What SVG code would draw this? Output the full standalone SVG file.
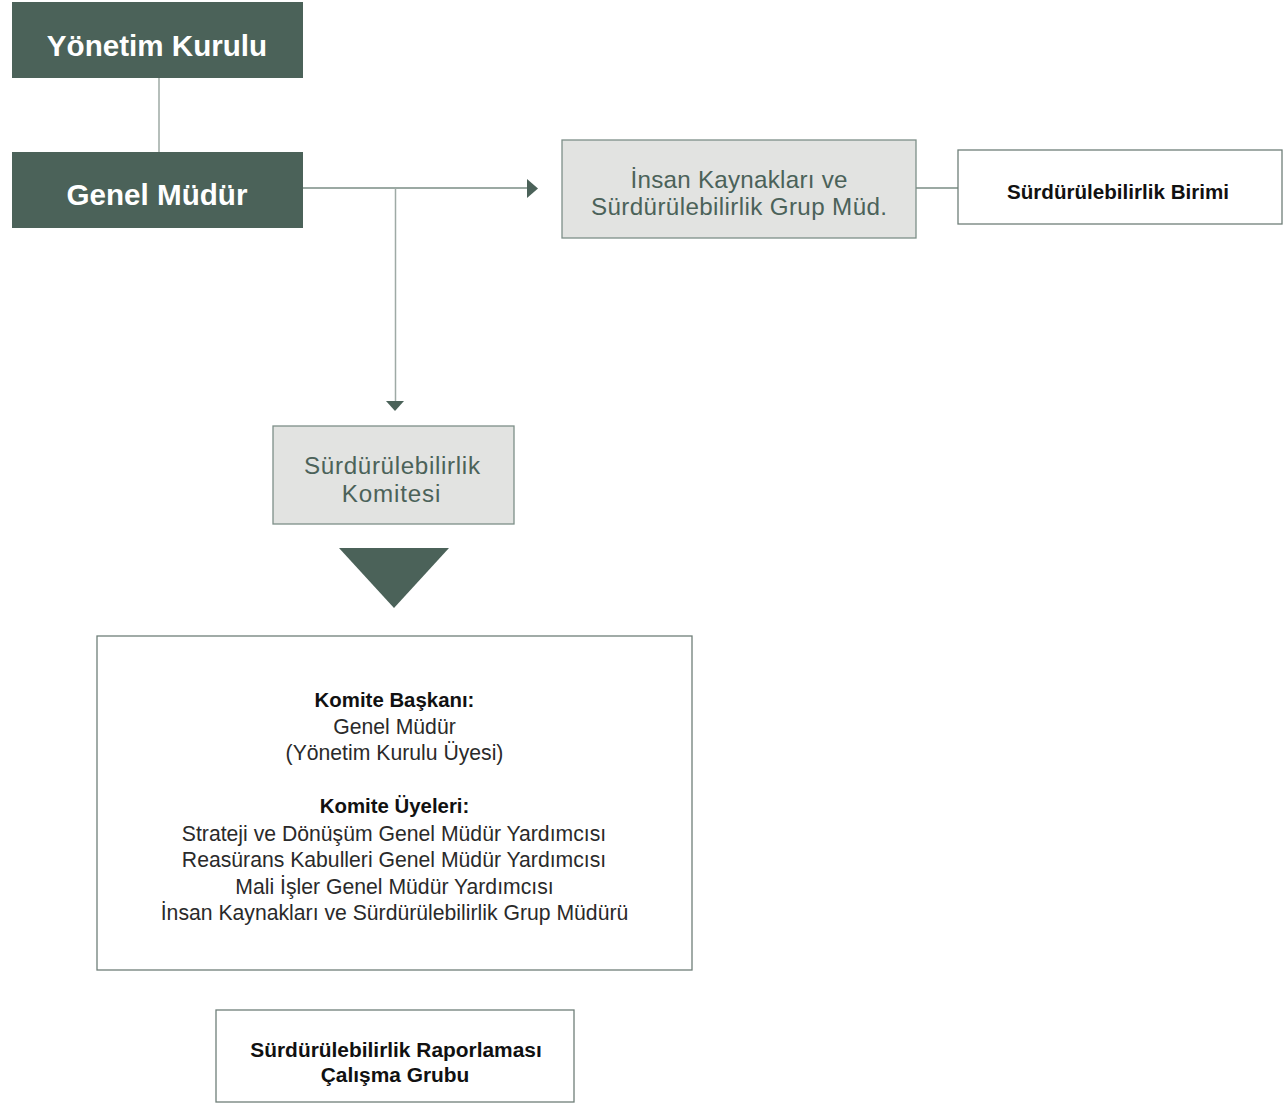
<svg xmlns="http://www.w3.org/2000/svg" width="1285" height="1104" viewBox="0 0 1285 1104">
<defs>
<style>
.dark{fill:#4b6259}
.grey{fill:#e2e3e1;stroke:#7d8f88;stroke-width:1.3}
.white{fill:#ffffff;stroke:#6f7f79;stroke-width:1.3}
.t{font-family:"Liberation Sans",Arial,sans-serif;text-anchor:middle}
.tw{fill:#ffffff;font-weight:bold;font-size:29.6px}
.tg{fill:#4b6259;font-size:24.2px}
.tb{fill:#111111;font-weight:bold}
.tr{fill:#2a2a2a;font-size:21.2px}
.line{fill:none;stroke:#7a8c85;stroke-width:1.5}
.line2{fill:none;stroke:#9eaaa5;stroke-width:1.5}
</style>
</defs>
<g id="connectors">
<line class="line2" x1="159" y1="78" x2="159" y2="152"/>
<line class="line" x1="303" y1="188" x2="528" y2="188"/>
<polygon class="dark" points="527,179 538,188.5 527,198"/>
<line class="line2" x1="395.5" y1="188" x2="395.5" y2="402"/>
<polygon class="dark" points="386,401 404,401 395,411"/>
<line class="line" x1="916" y1="188" x2="958" y2="188"/>
<polygon class="dark" points="339,548 449,548 394,608"/>
</g>
<g id="yonetim">
<rect class="dark" x="12" y="2" width="291" height="76"/>
<text class="t tw" x="157" y="56">Yönetim Kurulu</text>
</g>
<g id="genel">
<rect class="dark" x="12" y="152" width="291" height="76"/>
<text class="t tw" x="157" y="205">Genel Müdür</text>
</g>
<g id="ik">
<rect class="grey" x="562" y="140" width="354" height="98"/>
<text class="t tg" x="739" y="188" textLength="217">İnsan Kaynakları ve</text>
<text class="t tg" x="739" y="215" textLength="296">Sürdürülebilirlik Grup Müd.</text>
</g>
<g id="birim">
<rect class="white" x="958" y="150" width="324" height="74"/>
<text class="t tb" x="1118" y="199" font-size="20.6">Sürdürülebilirlik Birimi</text>
</g>
<g id="komite">
<rect class="grey" x="273" y="426" width="241" height="98"/>
<text class="t tg" x="392" y="474" font-size="25" textLength="176">Sürdürülebilirlik</text>
<text class="t tg" x="391" y="502" font-size="25" textLength="98.5">Komitesi</text>
</g>
<g id="uyeler">
<rect class="white" x="97" y="636" width="595" height="334"/>
<text class="t tb" x="394.5" y="707" font-size="20.4">Komite Başkanı:</text>
<text class="t tr" x="394.5" y="734">Genel Müdür</text>
<text class="t tr" x="394.5" y="760">(Yönetim Kurulu Üyesi)</text>
<text class="t tb" x="394.5" y="813" font-size="20.4">Komite Üyeleri:</text>
<text class="t tr" x="394" y="841">Strateji ve Dönüşüm Genel Müdür Yardımcısı</text>
<text class="t tr" x="394" y="867">Reasürans Kabulleri Genel Müdür Yardımcısı</text>
<text class="t tr" x="394.5" y="894">Mali İşler Genel Müdür Yardımcısı</text>
<text class="t tr" x="394.5" y="920">İnsan Kaynakları ve Sürdürülebilirlik Grup Müdürü</text>
</g>
<g id="raporlama">
<rect class="white" x="216" y="1010" width="358" height="92"/>
<text class="t tb" x="396" y="1057" font-size="20.9">Sürdürülebilirlik Raporlaması</text>
<text class="t tb" x="395" y="1082" font-size="20.9">Çalışma Grubu</text>
</g>
</svg>
